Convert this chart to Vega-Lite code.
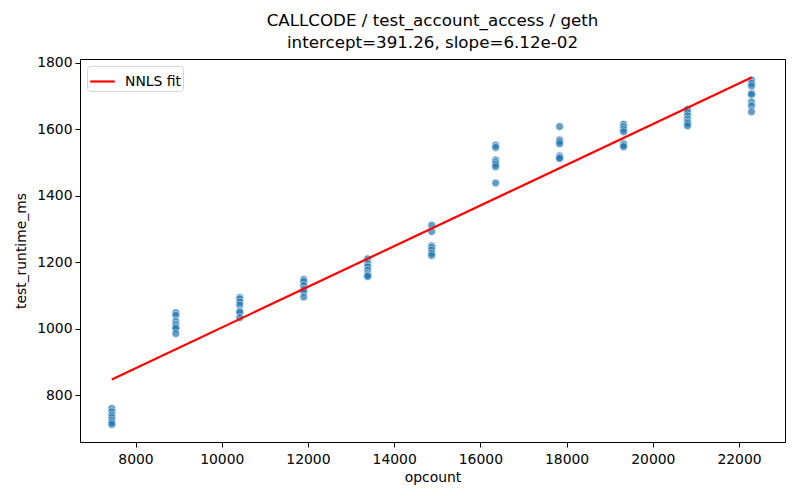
{
  "$schema": "https://vega.github.io/schema/vega-lite/v6.json",
  "width": 705,
  "height": 383,
  "autosize": "none",
  "padding": {"left": 80, "top": 59, "right": 15, "bottom": 58},
  "background": "white",
  "title": {
    "text": ["CALLCODE / test_account_access / geth", "intercept=391.26, slope=6.12e-02"],
    "fontSize": 16.7,
    "font": "DejaVu Sans",
    "fontWeight": "normal",
    "color": "black",
    "lineHeight": 22,
    "offset": 4,
    "anchor": "middle"
  },
  "datasets": {
    "points": [
      {"opcount": 7450, "test_runtime_ms": 760},
      {"opcount": 7450, "test_runtime_ms": 750},
      {"opcount": 7450, "test_runtime_ms": 740},
      {"opcount": 7450, "test_runtime_ms": 733},
      {"opcount": 7450, "test_runtime_ms": 725},
      {"opcount": 7450, "test_runtime_ms": 718},
      {"opcount": 7450, "test_runtime_ms": 712},
      {"opcount": 8934, "test_runtime_ms": 1048},
      {"opcount": 8934, "test_runtime_ms": 1040},
      {"opcount": 8934, "test_runtime_ms": 1022},
      {"opcount": 8934, "test_runtime_ms": 1012},
      {"opcount": 8934, "test_runtime_ms": 1005},
      {"opcount": 8934, "test_runtime_ms": 1000},
      {"opcount": 8934, "test_runtime_ms": 985},
      {"opcount": 10418, "test_runtime_ms": 1094},
      {"opcount": 10418, "test_runtime_ms": 1089},
      {"opcount": 10418, "test_runtime_ms": 1080},
      {"opcount": 10418, "test_runtime_ms": 1071},
      {"opcount": 10418, "test_runtime_ms": 1052},
      {"opcount": 10418, "test_runtime_ms": 1049},
      {"opcount": 10418, "test_runtime_ms": 1033},
      {"opcount": 11902, "test_runtime_ms": 1148},
      {"opcount": 11902, "test_runtime_ms": 1142},
      {"opcount": 11902, "test_runtime_ms": 1130},
      {"opcount": 11902, "test_runtime_ms": 1118},
      {"opcount": 11902, "test_runtime_ms": 1110},
      {"opcount": 11902, "test_runtime_ms": 1095},
      {"opcount": 13386, "test_runtime_ms": 1210},
      {"opcount": 13386, "test_runtime_ms": 1196},
      {"opcount": 13386, "test_runtime_ms": 1186},
      {"opcount": 13386, "test_runtime_ms": 1176},
      {"opcount": 13386, "test_runtime_ms": 1166},
      {"opcount": 13386, "test_runtime_ms": 1160},
      {"opcount": 13386, "test_runtime_ms": 1157},
      {"opcount": 14870, "test_runtime_ms": 1311},
      {"opcount": 14870, "test_runtime_ms": 1292},
      {"opcount": 14870, "test_runtime_ms": 1249},
      {"opcount": 14870, "test_runtime_ms": 1244},
      {"opcount": 14870, "test_runtime_ms": 1236},
      {"opcount": 14870, "test_runtime_ms": 1227},
      {"opcount": 14870, "test_runtime_ms": 1220},
      {"opcount": 16354, "test_runtime_ms": 1552},
      {"opcount": 16354, "test_runtime_ms": 1545},
      {"opcount": 16354, "test_runtime_ms": 1507},
      {"opcount": 16354, "test_runtime_ms": 1500},
      {"opcount": 16354, "test_runtime_ms": 1494},
      {"opcount": 16354, "test_runtime_ms": 1487},
      {"opcount": 16354, "test_runtime_ms": 1438},
      {"opcount": 17838, "test_runtime_ms": 1608},
      {"opcount": 17838, "test_runtime_ms": 1568},
      {"opcount": 17838, "test_runtime_ms": 1563},
      {"opcount": 17838, "test_runtime_ms": 1556},
      {"opcount": 17838, "test_runtime_ms": 1520},
      {"opcount": 17838, "test_runtime_ms": 1515},
      {"opcount": 17838, "test_runtime_ms": 1512},
      {"opcount": 19322, "test_runtime_ms": 1615},
      {"opcount": 19322, "test_runtime_ms": 1607},
      {"opcount": 19322, "test_runtime_ms": 1599},
      {"opcount": 19322, "test_runtime_ms": 1592},
      {"opcount": 19322, "test_runtime_ms": 1557},
      {"opcount": 19322, "test_runtime_ms": 1552},
      {"opcount": 19322, "test_runtime_ms": 1547},
      {"opcount": 20806, "test_runtime_ms": 1660},
      {"opcount": 20806, "test_runtime_ms": 1650},
      {"opcount": 20806, "test_runtime_ms": 1640},
      {"opcount": 20806, "test_runtime_ms": 1630},
      {"opcount": 20806, "test_runtime_ms": 1622},
      {"opcount": 20806, "test_runtime_ms": 1617},
      {"opcount": 20806, "test_runtime_ms": 1610},
      {"opcount": 22290, "test_runtime_ms": 1748},
      {"opcount": 22290, "test_runtime_ms": 1738},
      {"opcount": 22290, "test_runtime_ms": 1730},
      {"opcount": 22290, "test_runtime_ms": 1708},
      {"opcount": 22290, "test_runtime_ms": 1704},
      {"opcount": 22290, "test_runtime_ms": 1682},
      {"opcount": 22290, "test_runtime_ms": 1670},
      {"opcount": 22290, "test_runtime_ms": 1652}
    ],
    "fit": [
      {"opcount": 7450, "test_runtime_ms": 847.2, "series": "NNLS fit"},
      {"opcount": 22290, "test_runtime_ms": 1755.4, "series": "NNLS fit"}
    ]
  },
  "encoding": {
    "x": {
      "field": "opcount",
      "type": "quantitative",
      "title": "opcount",
      "scale": {"domain": [6712, 23067], "nice": false, "zero": false},
      "axis": {"values": [8000, 10000, 12000, 14000, 16000, 18000, 20000, 22000], "format": "d"}
    },
    "y": {
      "field": "test_runtime_ms",
      "type": "quantitative",
      "title": "test_runtime_ms",
      "scale": {"domain": [659, 1811], "nice": false, "zero": false},
      "axis": {"values": [800, 1000, 1200, 1400, 1600, 1800], "format": "d"}
    }
  },
  "layer": [
    {
      "data": {"name": "points"},
      "mark": {
        "type": "circle",
        "size": 64,
        "color": "#1f77b4",
        "opacity": 0.7,
        "stroke": "white",
        "strokeWidth": 0.75
      }
    },
    {
      "data": {"name": "fit"},
      "mark": {"type": "line", "strokeWidth": 2.2},
      "encoding": {
        "color": {
          "field": "series",
          "type": "nominal",
          "scale": {"range": ["#ff0000"]},
          "legend": {
            "orient": "top-left",
            "title": null,
            "offset": 7,
            "padding": 2,
            "cornerRadius": 3,
            "strokeColor": "#d6d6d6",
            "fillColor": "white",
            "symbolType": "stroke",
            "symbolSize": 600,
            "symbolStrokeWidth": 2.2,
            "labelFontSize": 13.9,
            "labelFont": "DejaVu Sans",
            "labelColor": "black",
            "labelOffset": 9
          }
        }
      }
    }
  ],
  "config": {
    "view": {"stroke": "black", "strokeWidth": 1},
    "axis": {
      "grid": false,
      "domainColor": "black",
      "tickColor": "black",
      "tickSize": 5,
      "labelFont": "DejaVu Sans",
      "labelFontSize": 13.9,
      "labelColor": "black",
      "labelPadding": 3,
      "titleFont": "DejaVu Sans",
      "titleFontSize": 13.9,
      "titleFontWeight": "normal",
      "titleColor": "black"
    },
    "axisX": {"titlePadding": 5, "labelPadding": 5},
    "axisY": {"titlePadding": 8}
  }
}
